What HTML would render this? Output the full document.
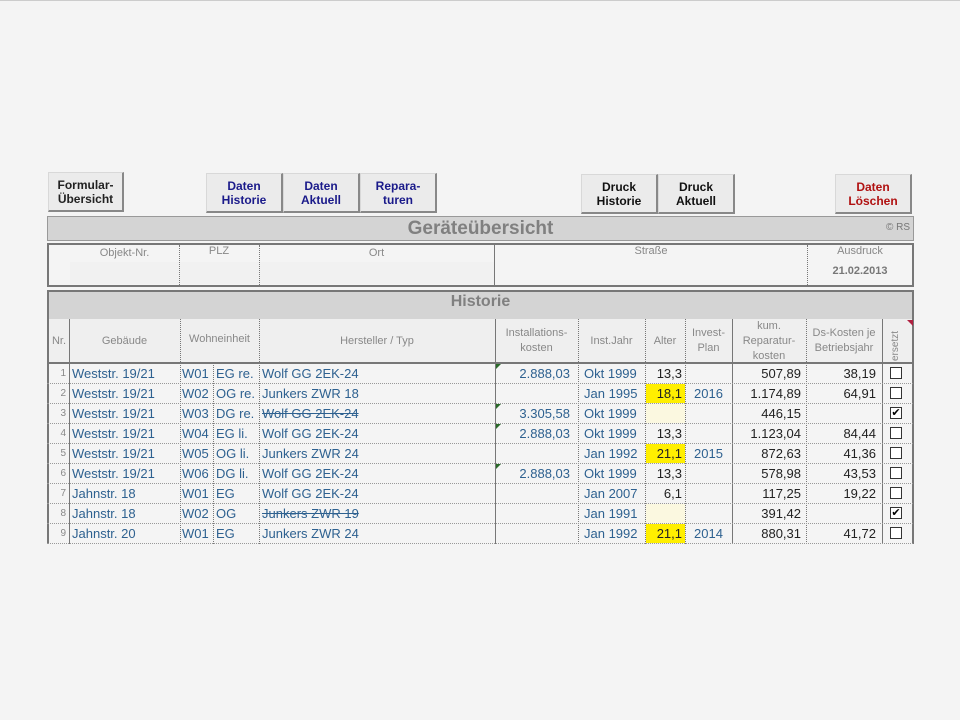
<!DOCTYPE html>
<html><head><meta charset="utf-8"><style>
*{margin:0;padding:0;box-sizing:border-box}
body{width:960px;height:720px;background:#f4f4f4;font-family:"Liberation Sans",Arial,sans-serif;position:relative;overflow:hidden;border-top:1px solid #ccc}
.a{position:absolute}
.btn{position:absolute;background:#ebebeb;border:1px solid #d8d8d8;border-right:2px solid #888;border-bottom:2px solid #888;font-size:12px;font-weight:bold;text-align:center;line-height:14px;display:flex;align-items:center;justify-content:center}
.hd{color:#888;font-size:11px;text-align:center;display:flex;align-items:center;justify-content:center;line-height:15px}
.c{position:absolute;font-size:13px;line-height:20px;height:20px;white-space:nowrap}
.b{color:#2e6190}
.k{color:#222}
.r{text-align:right}
.vl{position:absolute;border-left:1px dotted #777}
.hl{position:absolute;border-top:1px dotted #999;left:47px;width:866px}
.cb{position:absolute;width:12px;height:12px;border:1px solid #333;background:#fff;font-size:11px;line-height:10px;text-align:center;color:#000}
.y{position:absolute;background:#ffef00}
.tri{position:absolute;width:0;height:0;border-top:5px solid #2a6a2a;border-right:5px solid transparent}
</style></head><body>
<div class="btn" style="left:48px;top:171px;width:76px;height:40px;color:#222">Formular-<br>Übersicht</div>
<div class="btn" style="left:206px;top:172px;width:77px;height:40px;color:#1a1a8a">Daten<br>Historie</div>
<div class="btn" style="left:283px;top:172px;width:77px;height:40px;color:#1a1a8a">Daten<br>Aktuell</div>
<div class="btn" style="left:360px;top:172px;width:77px;height:40px;color:#1a1a8a">Repara-<br>turen</div>
<div class="btn" style="left:581px;top:173px;width:77px;height:40px;color:#111">Druck<br>Historie</div>
<div class="btn" style="left:658px;top:173px;width:77px;height:40px;color:#111">Druck<br>Aktuell</div>
<div class="btn" style="left:835px;top:173px;width:77px;height:40px;color:#b01010">Daten<br>Löschen</div>

<div class="a" style="left:47px;top:215px;width:867px;height:25px;background:#d4d4d4;border:1px solid #999"></div>
<div class="a" style="left:47px;top:216px;width:867px;text-align:center;font-size:19px;font-weight:bold;color:#808080;line-height:23px">Geräteübersicht</div>
<div class="a" style="right:50px;top:221px;font-size:10px;color:#777">© RS</div>

<div class="a" style="left:47px;top:242px;width:867px;height:44px;border:2px solid #777;background:#f4f4f4"></div>
<div class="a" style="left:70px;top:261px;width:425px;height:22px;background:#f1f1f1"></div>
<div class="vl" style="left:179px;top:244px;height:40px"></div>
<div class="vl" style="left:259px;top:244px;height:40px"></div>
<div class="a" style="left:494px;top:244px;height:40px;border-left:1px solid #777"></div>
<div class="vl" style="left:807px;top:244px;height:40px"></div>
<div class="a hd" style="left:70px;top:245px;width:109px">Objekt-Nr.</div>
<div class="a hd" style="left:179px;top:243px;width:80px">PLZ</div>
<div class="a hd" style="left:259px;top:245px;width:235px">Ort</div>
<div class="a hd" style="left:495px;top:243px;width:312px">Straße</div>
<div class="a hd" style="left:807px;top:243px;width:106px">Ausdruck</div>
<div class="a" style="left:807px;top:264px;width:106px;text-align:center;font-size:11px;font-weight:bold;color:#777">21.02.2013</div>

<div class="a" style="left:47px;top:289px;width:867px;height:254px;border:2px solid #777;border-bottom:none"></div>
<div class="a" style="left:49px;top:291px;width:863px;height:27px;background:#d4d4d4"></div>
<div class="a" style="left:47px;top:292px;width:867px;text-align:center;font-size:16px;font-weight:bold;color:#808080">Historie</div>
<div class="a" style="left:49px;top:318px;width:863px;height:44px;background:#efefef"></div>
<div class="a" style="left:49px;top:361px;width:863px;border-top:2px solid #777"></div>

<div class="a" style="left:69px;top:318px;height:225px;border-left:1px solid #777"></div>
<div class="vl" style="left:180px;top:318px;height:225px"></div>
<div class="vl" style="left:213px;top:362px;height:181px"></div>
<div class="vl" style="left:259px;top:318px;height:225px"></div>
<div class="a" style="left:495px;top:318px;height:225px;border-left:1px solid #777"></div>
<div class="vl" style="left:578px;top:318px;height:225px"></div>
<div class="vl" style="left:645px;top:318px;height:225px"></div>
<div class="vl" style="left:685px;top:318px;height:225px"></div>
<div class="a" style="left:732px;top:318px;height:225px;border-left:1px solid #777"></div>
<div class="vl" style="left:806px;top:318px;height:225px"></div>
<div class="a" style="left:882px;top:318px;height:225px;border-left:1px solid #777"></div>

<div class="a hd" style="left:49px;top:318px;width:20px;height:44px">Nr.</div>
<div class="a hd" style="left:69px;top:318px;width:111px;height:44px">Gebäude</div>
<div class="a hd" style="left:180px;top:318px;width:79px;height:44px;padding-bottom:4px">Wohneinheit</div>
<div class="a hd" style="left:259px;top:318px;width:236px;height:44px">Hersteller / Typ</div>
<div class="a hd" style="left:495px;top:318px;width:83px;height:44px">Installations-<br>kosten</div>
<div class="a hd" style="left:578px;top:318px;width:67px;height:44px">Inst.Jahr</div>
<div class="a hd" style="left:645px;top:318px;width:40px;height:44px">Alter</div>
<div class="a hd" style="left:685px;top:318px;width:47px;height:44px">Invest-<br>Plan</div>
<div class="a hd" style="left:732px;top:318px;width:74px;height:44px">kum.<br>Reparatur-<br>kosten</div>
<div class="a hd" style="left:806px;top:318px;width:76px;height:44px">Ds-Kosten je<br>Betriebsjahr</div>
<div class="a" style="left:890px;top:340px;transform:rotate(-90deg);transform-origin:left top;font-size:10px;color:#888;top:360px">ersetzt</div>
<div class="a" style="left:907px;top:319px;width:0;height:0;border-top:6px solid #b02040;border-left:6px solid transparent"></div>

<div class="y" style="left:646px;top:383px;width:39px;height:19px"></div>
<div class="y" style="left:646px;top:443px;width:39px;height:19px"></div>
<div class="y" style="left:646px;top:523px;width:39px;height:19px"></div>
<div class="a" style="left:646px;top:403px;width:39px;height:19px;background:#fbf8e0"></div>
<div class="a" style="left:646px;top:503px;width:39px;height:19px;background:#fbf8e0"></div>

<div class="hl" style="top:382px"></div><div class="hl" style="top:402px"></div><div class="hl" style="top:422px"></div><div class="hl" style="top:442px"></div><div class="hl" style="top:462px"></div><div class="hl" style="top:482px"></div><div class="hl" style="top:502px"></div><div class="hl" style="top:522px"></div><div class="hl" style="top:542px"></div>

<div class="tri" style="left:496px;top:363px"></div><div class="tri" style="left:496px;top:403px"></div><div class="tri" style="left:496px;top:423px"></div><div class="tri" style="left:496px;top:463px"></div>

<div id="rows"></div>
<script></script>
<!-- rows -->
<div style="position:absolute;left:0;top:0">
<!-- row template: y = 363 + 20*i -->
</div>
<div class="c" style="top:363px;left:49px;width:17px;text-align:right;font-size:10px;color:#888">1</div>
<div class="c" style="top:383px;left:49px;width:17px;text-align:right;font-size:10px;color:#888">2</div>
<div class="c" style="top:403px;left:49px;width:17px;text-align:right;font-size:10px;color:#888">3</div>
<div class="c" style="top:423px;left:49px;width:17px;text-align:right;font-size:10px;color:#888">4</div>
<div class="c" style="top:443px;left:49px;width:17px;text-align:right;font-size:10px;color:#888">5</div>
<div class="c" style="top:463px;left:49px;width:17px;text-align:right;font-size:10px;color:#888">6</div>
<div class="c" style="top:483px;left:49px;width:17px;text-align:right;font-size:10px;color:#888">7</div>
<div class="c" style="top:503px;left:49px;width:17px;text-align:right;font-size:10px;color:#888">8</div>
<div class="c" style="top:523px;left:49px;width:17px;text-align:right;font-size:10px;color:#888">9</div>

<div class="c b" style="top:363px;left:72px">Weststr. 19/21</div>
<div class="c b" style="top:383px;left:72px">Weststr. 19/21</div>
<div class="c b" style="top:403px;left:72px">Weststr. 19/21</div>
<div class="c b" style="top:423px;left:72px">Weststr. 19/21</div>
<div class="c b" style="top:443px;left:72px">Weststr. 19/21</div>
<div class="c b" style="top:463px;left:72px">Weststr. 19/21</div>
<div class="c b" style="top:483px;left:72px">Jahnstr. 18</div>
<div class="c b" style="top:503px;left:72px">Jahnstr. 18</div>
<div class="c b" style="top:523px;left:72px">Jahnstr. 20</div>

<div class="c b" style="top:363px;left:182px">W01</div><div class="c b" style="top:363px;left:216px">EG re.</div>
<div class="c b" style="top:383px;left:182px">W02</div><div class="c b" style="top:383px;left:216px">OG re.</div>
<div class="c b" style="top:403px;left:182px">W03</div><div class="c b" style="top:403px;left:216px">DG re.</div>
<div class="c b" style="top:423px;left:182px">W04</div><div class="c b" style="top:423px;left:216px">EG li.</div>
<div class="c b" style="top:443px;left:182px">W05</div><div class="c b" style="top:443px;left:216px">OG li.</div>
<div class="c b" style="top:463px;left:182px">W06</div><div class="c b" style="top:463px;left:216px">DG li.</div>
<div class="c b" style="top:483px;left:182px">W01</div><div class="c b" style="top:483px;left:216px">EG</div>
<div class="c b" style="top:503px;left:182px">W02</div><div class="c b" style="top:503px;left:216px">OG</div>
<div class="c b" style="top:523px;left:182px">W01</div><div class="c b" style="top:523px;left:216px">EG</div>

<div class="c b" style="top:363px;left:262px">Wolf GG 2EK-24</div>
<div class="c b" style="top:383px;left:262px">Junkers ZWR 18</div>
<div class="c b" style="top:403px;left:262px;text-decoration:line-through">Wolf GG 2EK-24</div>
<div class="c b" style="top:423px;left:262px">Wolf GG 2EK-24</div>
<div class="c b" style="top:443px;left:262px">Junkers ZWR 24</div>
<div class="c b" style="top:463px;left:262px">Wolf GG 2EK-24</div>
<div class="c b" style="top:483px;left:262px">Wolf GG 2EK-24</div>
<div class="c b" style="top:503px;left:262px;text-decoration:line-through">Junkers ZWR 19</div>
<div class="c b" style="top:523px;left:262px">Junkers ZWR 24</div>

<div class="c b r" style="top:363px;left:495px;width:75px">2.888,03</div>
<div class="c b r" style="top:403px;left:495px;width:75px">3.305,58</div>
<div class="c b r" style="top:423px;left:495px;width:75px">2.888,03</div>
<div class="c b r" style="top:463px;left:495px;width:75px">2.888,03</div>

<div class="c b" style="top:363px;left:584px">Okt 1999</div>
<div class="c b" style="top:383px;left:584px">Jan 1995</div>
<div class="c b" style="top:403px;left:584px">Okt 1999</div>
<div class="c b" style="top:423px;left:584px">Okt 1999</div>
<div class="c b" style="top:443px;left:584px">Jan 1992</div>
<div class="c b" style="top:463px;left:584px">Okt 1999</div>
<div class="c b" style="top:483px;left:584px">Jan 2007</div>
<div class="c b" style="top:503px;left:584px">Jan 1991</div>
<div class="c b" style="top:523px;left:584px">Jan 1992</div>

<div class="c k r" style="top:363px;left:645px;width:37px">13,3</div>
<div class="c k r" style="top:383px;left:645px;width:37px">18,1</div>
<div class="c k r" style="top:423px;left:645px;width:37px">13,3</div>
<div class="c k r" style="top:443px;left:645px;width:37px">21,1</div>
<div class="c k r" style="top:463px;left:645px;width:37px">13,3</div>
<div class="c k r" style="top:483px;left:645px;width:37px">6,1</div>
<div class="c k r" style="top:523px;left:645px;width:37px">21,1</div>

<div class="c b" style="top:383px;left:694px">2016</div>
<div class="c b" style="top:443px;left:694px">2015</div>
<div class="c b" style="top:523px;left:694px">2014</div>

<div class="c k r" style="top:363px;left:732px;width:69px">507,89</div>
<div class="c k r" style="top:383px;left:732px;width:69px">1.174,89</div>
<div class="c k r" style="top:403px;left:732px;width:69px">446,15</div>
<div class="c k r" style="top:423px;left:732px;width:69px">1.123,04</div>
<div class="c k r" style="top:443px;left:732px;width:69px">872,63</div>
<div class="c k r" style="top:463px;left:732px;width:69px">578,98</div>
<div class="c k r" style="top:483px;left:732px;width:69px">117,25</div>
<div class="c k r" style="top:503px;left:732px;width:69px">391,42</div>
<div class="c k r" style="top:523px;left:732px;width:69px">880,31</div>

<div class="c k r" style="top:363px;left:806px;width:70px">38,19</div>
<div class="c k r" style="top:383px;left:806px;width:70px">64,91</div>
<div class="c k r" style="top:423px;left:806px;width:70px">84,44</div>
<div class="c k r" style="top:443px;left:806px;width:70px">41,36</div>
<div class="c k r" style="top:463px;left:806px;width:70px">43,53</div>
<div class="c k r" style="top:483px;left:806px;width:70px">19,22</div>
<div class="c k r" style="top:523px;left:806px;width:70px">41,72</div>

<div class="cb" style="left:890px;top:366px"></div>
<div class="cb" style="left:890px;top:386px"></div>
<div class="cb" style="left:890px;top:406px">✔</div>
<div class="cb" style="left:890px;top:426px"></div>
<div class="cb" style="left:890px;top:446px"></div>
<div class="cb" style="left:890px;top:466px"></div>
<div class="cb" style="left:890px;top:486px"></div>
<div class="cb" style="left:890px;top:506px">✔</div>
<div class="cb" style="left:890px;top:526px"></div>
</body></html>
